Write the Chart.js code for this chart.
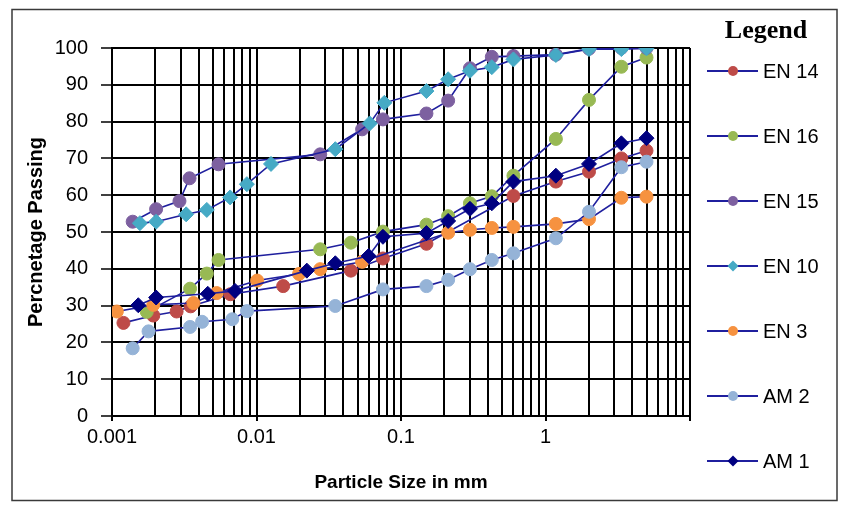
<!DOCTYPE html>
<html>
<head>
<meta charset="utf-8">
<script src="https://cdn.jsdelivr.net/npm/chart.js@4.4.0/dist/chart.umd.min.js"></script>
<style>
  html, body { margin: 0; padding: 0; background: #ffffff; }
  #wrap { width: 842px; height: 507px; position: relative; }
</style>
</head>
<body>
<div id="wrap"><canvas id="c" width="842" height="507"></canvas></div>
<script>
// ---- Data ----
const seriesNames = ['EN 14', 'EN 16', 'EN 15', 'EN 10', 'EN 3', 'AM 2', 'AM 1'];
const markerColors = ['#BE4B48', '#98B954', '#7D60A0', '#46AAC5', '#F69240', '#95B3D7', '#000080'];
const markerStyles = ['circle', 'circle', 'circle', 'rectRot', 'circle', 'circle', 'rectRot'];

const en14Size = [0.0012, 0.00193, 0.0028, 0.0035, 0.0066, 0.0153, 0.045, 0.075, 0.15, 0.6, 1.18, 2, 3.35, 5];
const en14Pass = [25.3, 27.3, 28.4, 29.8, 33.1, 35.3, 39.5, 42.8, 46.8, 59.8, 63.7, 66.4, 70.0, 72.1];

const en16Size = [0.00174, 0.00347, 0.00453, 0.00546, 0.0276, 0.045, 0.075, 0.15, 0.212, 0.3, 0.425, 0.6, 1.18, 2, 3.35, 5];
const en16Pass = [28.3, 34.6, 38.7, 42.4, 45.3, 47.1, 50.1, 52.0, 54.3, 57.8, 59.7, 65.3, 75.3, 85.9, 94.9, 97.4];

const en15Size = [0.00139, 0.00202, 0.00293, 0.00344, 0.00546, 0.0276, 0.0538, 0.075, 0.15, 0.212, 0.3, 0.425, 0.6, 1.18, 2, 3.35, 5];
const en15Pass = [52.8, 56.2, 58.4, 64.6, 68.4, 71.1, 77.9, 80.6, 82.2, 85.7, 94.5, 97.6, 97.8, 98.2, 99.8, 100, 100];

const en10Size = [0.00156, 0.00202, 0.00326, 0.00453, 0.00657, 0.00858, 0.0126, 0.0351, 0.0607, 0.0767, 0.15, 0.212, 0.3, 0.425, 0.6, 1.18, 2, 3.35, 5];
const en10Pass = [52.4, 52.8, 54.8, 56.0, 59.4, 63.0, 68.5, 72.5, 79.5, 85.1, 88.3, 91.5, 93.8, 94.8, 96.9, 98.1, 99.7, 99.7, 99.9];

const en3Size = [0.00108, 0.00193, 0.00366, 0.0053, 0.0101, 0.0197, 0.0276, 0.0538, 0.212, 0.3, 0.425, 0.6, 1.18, 2, 3.35, 5];
const en3Pass = [28.4, 30.2, 30.7, 33.4, 36.8, 38.6, 39.9, 41.9, 49.8, 50.6, 51.1, 51.4, 52.2, 53.5, 59.3, 59.6];

const am2Size = [0.00139, 0.00179, 0.00347, 0.0042, 0.0068, 0.0086, 0.0351, 0.075, 0.15, 0.212, 0.3, 0.425, 0.6, 1.18, 2, 3.35, 5];
const am2Pass = [18.4, 23.0, 24.2, 25.6, 26.3, 28.5, 29.9, 34.4, 35.3, 37.0, 39.9, 42.4, 44.2, 48.3, 55.5, 67.6, 69.1];

const am1Size = [0.00152, 0.00202, 0.0046, 0.0071, 0.0223, 0.0351, 0.0597, 0.075, 0.15, 0.212, 0.3, 0.425, 0.6, 1.18, 2, 3.35, 5];
const am1Pass = [30.1, 32.2, 33.2, 34.0, 39.5, 41.5, 43.5, 48.7, 49.7, 53.0, 56.3, 57.8, 63.7, 65.3, 68.5, 74.1, 75.5];

const xMajorTicks = [0.001, 0.01, 0.1, 1, 10];
const xTickLabels = ['0.001', '0.01', '0.1', '1', ''];
const yTicks = [0, 10, 20, 30, 40, 50, 60, 70, 80, 90, 100];

const xTitle = 'Particle Size in mm';
const yTitle = 'Percnetage Passing';
const legendTitle = 'Legend';

// ---- Build datasets ----
const sizes = [en14Size, en16Size, en15Size, en10Size, en3Size, am2Size, am1Size];
const passes = [en14Pass, en16Pass, en15Pass, en10Pass, en3Pass, am2Pass, am1Pass];
const LINE = '#1F1F9E';

const datasets = seriesNames.map((name, i) => ({
  label: name,
  data: sizes[i].map((s, j) => ({ x: s, y: passes[i][j] })),
  borderColor: LINE,
  backgroundColor: markerColors[i],
  borderWidth: 1.6,
  pointStyle: markerStyles[i],
  pointRadius: markerStyles[i] === 'rectRot' ? 7.5 : 6.5,
  pointBackgroundColor: markerColors[i],
  pointBorderColor: markerColors[i],
  pointBorderWidth: 1,
  tension: 0,
  fill: false,
  order: seriesNames.length - i
}));

// Minor grid positions 1..9 per decade between the major ticks
function buildLogTicks() {
  const out = [];
  for (let d = 0; d < xMajorTicks.length - 1; d++) {
    const base = xMajorTicks[d];
    for (let k = 1; k <= 9; k++) {
      out.push({ value: +(base * k).toPrecision(6), major: k === 1 });
    }
  }
  out.push({ value: xMajorTicks[xMajorTicks.length - 1], major: true });
  return out;
}

const FONT = "'Liberation Sans', Arial, sans-serif";

const legendPlugin = {
  id: 'customLegend',
  afterDraw(chart) {
    const ctx = chart.ctx;
    ctx.save();
    // outer frame
    ctx.strokeStyle = '#3a3a3a';
    ctx.lineWidth = 1.5;
    ctx.strokeRect(12, 9.5, 825, 491);
    // legend title
    ctx.fillStyle = '#000';
    ctx.font = "bold 26px 'Liberation Serif', 'Times New Roman', serif";
    ctx.textAlign = 'center';
    ctx.textBaseline = 'middle';
    ctx.fillText(legendTitle, 766, 31);
    // items
    ctx.font = '20px ' + FONT;
    ctx.textAlign = 'left';
    chart.data.datasets.forEach((ds, i) => {
      const y = 71 + i * 65;
      ctx.strokeStyle = LINE;
      ctx.lineWidth = 2;
      ctx.beginPath();
      ctx.moveTo(707, y);
      ctx.lineTo(758, y);
      ctx.stroke();
      ctx.fillStyle = ds.pointBackgroundColor;
      ctx.beginPath();
      if (ds.pointStyle === 'rectRot') {
        const r = 5.5;
        ctx.moveTo(733, y - r);
        ctx.lineTo(733 + r, y);
        ctx.lineTo(733, y + r);
        ctx.lineTo(733 - r, y);
        ctx.closePath();
      } else {
        ctx.arc(733, y, 5, 0, Math.PI * 2);
      }
      ctx.fill();
      ctx.fillStyle = '#000';
      ctx.fillText(ds.label, 763, y + 1);
    });
    ctx.restore();
  }
};

new Chart(document.getElementById('c'), {
  type: 'line',
  data: { datasets },
  options: {
    responsive: false,
    animation: false,
    devicePixelRatio: 1,
    layout: { padding: { left: 12, right: 152, top: 48, bottom: 0 } },
    plugins: {
      legend: { display: false },
      tooltip: { enabled: false },
      title: { display: false }
    },
    scales: {
      x: {
        type: 'logarithmic',
        min: xMajorTicks[0],
        max: xMajorTicks[xMajorTicks.length - 1],
        afterBuildTicks(axis) { axis.ticks = buildLogTicks(); },
        afterFit(axis) { axis.height = 91; },
        border: { display: true, color: '#000', width: 2 },
        grid: {
          color: '#000',
          lineWidth: 2,
          drawTicks: true,
          tickLength: 5,
          tickColor: (c) => (c.tick && c.tick.major ? '#000' : 'rgba(0,0,0,0)'),
          tickWidth: 2
        },
        ticks: {
          autoSkip: false,
          maxRotation: 0,
          padding: 4,
          color: '#000',
          font: { family: FONT, size: 20 },
          callback: function (value) {
            const idx = xMajorTicks.findIndex(v => Math.abs(v - value) < v * 1e-6);
            return idx >= 0 ? xTickLabels[idx] : '';
          }
        },
        title: {
          display: true,
          text: xTitle,
          color: '#000',
          font: { family: FONT, size: 19, weight: 'bold' },
          padding: { top: 0, bottom: 13 }
        }
      },
      y: {
        type: 'linear',
        min: yTicks[0],
        max: yTicks[yTicks.length - 1],
        afterBuildTicks(axis) { axis.ticks = yTicks.map(v => ({ value: v })); },
        afterFit(axis) { axis.width = 100; },
        border: { display: true, color: '#000', width: 2 },
        grid: {
          color: '#000',
          lineWidth: 2,
          drawTicks: true,
          tickLength: 11,
          tickColor: '#000',
          tickWidth: 1.5
        },
        ticks: {
          padding: 13,
          color: '#000',
          font: { family: FONT, size: 20 }
        },
        title: {
          display: true,
          text: yTitle,
          color: '#000',
          font: { family: FONT, size: 20, weight: 'bold' },
          padding: { top: 12, bottom: 0 }
        }
      }
    }
  },
  plugins: [legendPlugin]
});
</script>
</body>
</html>
